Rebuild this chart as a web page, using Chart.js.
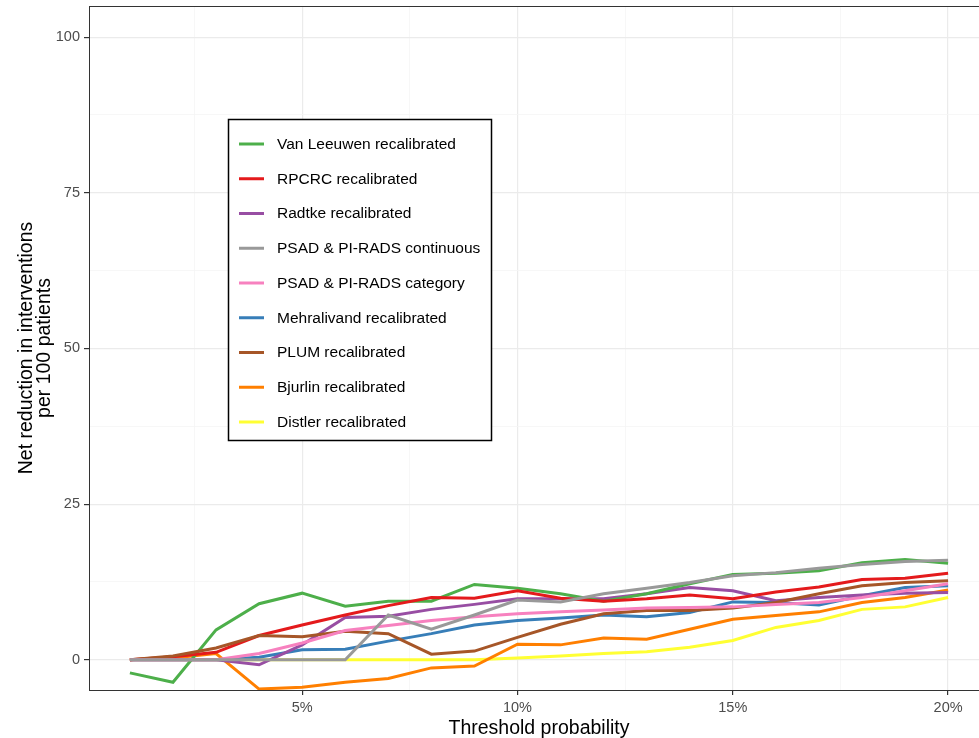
<!DOCTYPE html>
<html>
<head>
<meta charset="utf-8">
<script src="https://cdn.jsdelivr.net/npm/chart.js@4.4.1/dist/chart.umd.min.js"></script>
<style>
  html, body { margin: 0; padding: 0; background: #fff; overflow: hidden; }
  #wrap { width: 979px; height: 738px; overflow: hidden; }
</style>
</head>
<body>
<div id="wrap"><canvas id="dca" width="1000" height="738"></canvas></div>
<script>
const thresholds = [1, 2, 3, 4, 5, 6, 7, 8, 9, 10, 11, 12, 13, 14, 15, 16, 17, 18, 19, 20];

const vanLeeuwen  = [-2.1, -3.6, 4.8, 9.0, 10.7, 8.6, 9.4, 9.4, 12.1, 11.5, 10.6, 9.4, 10.6, 12.2, 13.7, 13.9, 14.3, 15.6, 16.1, 15.5];
const rpcrc       = [0, 0.5, 1.2, 3.9, 5.6, 7.2, 8.7, 10.0, 9.9, 11.1, 9.9, 9.4, 9.8, 10.4, 9.8, 10.9, 11.7, 12.9, 13.1, 13.9];
const radtke      = [0, 0, 0, -0.8, 2.4, 6.8, 7.0, 8.1, 8.9, 9.8, 9.8, 9.8, 10.6, 11.6, 11.1, 9.5, 10.0, 10.4, 10.7, 10.8];
const psadCont    = [0, 0, 0, 0, 0, 0, 7.2, 4.9, 7.2, 9.6, 9.3, 10.6, 11.5, 12.4, 13.5, 14.0, 14.7, 15.3, 15.8, 16.0];
const psadCat     = [0, 0, 0, 1.0, 2.7, 4.7, 5.5, 6.3, 6.9, 7.4, 7.7, 8.0, 8.3, 8.4, 8.5, 8.9, 9.2, 10.0, 11.1, 12.2];
const mehralivand = [0, 0, 0, 0.4, 1.6, 1.7, 3.0, 4.2, 5.6, 6.3, 6.7, 7.2, 6.9, 7.6, 9.3, 9.2, 8.8, 10.3, 11.6, 11.9];
const plum        = [0, 0.6, 1.9, 3.9, 3.7, 4.6, 4.2, 0.9, 1.4, 3.6, 5.7, 7.4, 7.9, 7.9, 8.3, 9.2, 10.6, 11.9, 12.4, 12.7];
const bjurlin     = [0, 0.3, 1.0, -4.7, -4.4, -3.6, -3.0, -1.3, -1.0, 2.5, 2.4, 3.5, 3.3, 4.9, 6.5, 7.1, 7.7, 9.2, 10.0, 11.2];
const distler     = [0, 0, 0, 0, 0, 0, 0, 0, 0, 0.3, 0.6, 1.0, 1.3, 2.0, 3.1, 5.2, 6.3, 8.1, 8.5, 10.0];

const xMajorTicks = [5, 10, 15, 20];
const xMinorTicks = [2.5, 7.5, 12.5, 17.5];
const yMajorTicks = [0, 25, 50, 75, 100];
const yMinorTicks = [12.5, 37.5, 62.5, 87.5];

const FONT = "'Liberation Sans', Arial, Helvetica, sans-serif";

const series = [
  { label: "Van Leeuwen recalibrated", values: vanLeeuwen, color: "#4DAF4A", order: 5 },
  { label: "RPCRC recalibrated", values: rpcrc, color: "#E41A1C", order: 4 },
  { label: "Radtke recalibrated", values: radtke, color: "#984EA3", order: 6 },
  { label: "PSAD & PI-RADS continuous", values: psadCont, color: "#999999", order: 1 },
  { label: "PSAD & PI-RADS category", values: psadCat, color: "#F781BF", order: 2 },
  { label: "Mehralivand recalibrated", values: mehralivand, color: "#377EB8", order: 7 },
  { label: "PLUM recalibrated", values: plum, color: "#A65628", order: 3 },
  { label: "Bjurlin recalibrated", values: bjurlin, color: "#FF7F00", order: 8 },
  { label: "Distler recalibrated", values: distler, color: "#FFFF33", order: 9 },
];

// ggplot-like panel border on all sides
const panelBorder = {
  id: "panelBorder",
  afterDraw(chart) {
    const { ctx, chartArea: a } = chart;
    ctx.save();
    ctx.strokeStyle = "#333333";
    ctx.lineWidth = 1;
    ctx.strokeRect(a.left + 0.5, a.top + 0.5, a.right - a.left, a.bottom - a.top);
    ctx.restore();
  },
};

// boxed legend placed inside the panel
const insetLegend = {
  id: "insetLegend",
  afterDraw(chart) {
    const ctx = chart.ctx;
    const box = { x: 228.5, y: 119.5, w: 263, h: 321 };
    ctx.save();
    ctx.fillStyle = "#ffffff";
    ctx.fillRect(box.x, box.y, box.w, box.h);
    ctx.strokeStyle = "#000000";
    ctx.lineWidth = 1.5;
    ctx.strokeRect(box.x, box.y, box.w, box.h);
    ctx.font = "15.5px " + FONT;
    ctx.textBaseline = "middle";
    ctx.fillStyle = "#000000";
    chart.data.datasets.forEach((ds, i) => {
      const y = 144 + i * 34.75;
      ctx.strokeStyle = ds.borderColor;
      ctx.lineWidth = 3;
      ctx.beginPath();
      ctx.moveTo(239, y);
      ctx.lineTo(264, y);
      ctx.stroke();
      ctx.fillText(ds.label, 277, y + 0.5);
    });
    ctx.restore();
  },
};

const isIn = (arr, v) => arr.some((t) => Math.abs(t - v) < 1e-6);

new Chart(document.getElementById("dca"), {
  type: "line",
  data: {
    datasets: series.map((s) => ({
      label: s.label,
      data: thresholds.map((t, i) => ({ x: t, y: s.values[i] })),
      borderColor: s.color,
      backgroundColor: s.color,
      borderWidth: 3,
      pointRadius: 0,
      tension: 0,
      fill: false,
      order: s.order,
    })),
  },
  options: {
    responsive: false,
    animation: false,
    layout: { padding: { top: 6, right: 11, left: 0, bottom: 0 } },
    plugins: { legend: { display: false }, tooltip: { enabled: false } },
    scales: {
      x: {
        type: "linear",
        min: 0.05,
        max: 20.95,
        afterBuildTicks: (scale) => {
          scale.ticks = [...xMinorTicks, ...xMajorTicks].sort((a, b) => a - b).map((v) => ({ value: v }));
        },
        afterFit: (scale) => {
          scale.height = 48;
          scale.paddingLeft = 0;
          scale.paddingRight = 0;
        },
        border: { display: false },
        grid: {
          color: (c) => (isIn(xMajorTicks, c.tick.value) ? "#EBEBEB" : "#F5F5F5"),
          lineWidth: (c) => (isIn(xMajorTicks, c.tick.value) ? 1.2 : 0.8),
          tickLength: 5,
          tickColor: (c) => (isIn(xMajorTicks, c.tick.value) ? "#333333" : "rgba(0,0,0,0)"),
        },
        ticks: {
          autoSkip: false,
          maxRotation: 0,
          padding: 4,
          color: "#4D4D4D",
          font: { family: FONT, size: 14.5 },
          callback: (v) => (isIn(xMajorTicks, v) ? v + "%" : ""),
        },
        title: {
          display: true,
          text: "Threshold probability",
          color: "#000000",
          font: { family: FONT, size: 19.5 },
          padding: { top: 0, bottom: -2 },
        },
      },
      y: {
        type: "linear",
        min: -4.85,
        max: 105,
        afterBuildTicks: (scale) => {
          scale.ticks = [...yMajorTicks, ...yMinorTicks].sort((a, b) => a - b).map((v) => ({ value: v }));
        },
        afterFit: (scale) => {
          scale.width = 89;
          scale.paddingTop = 0;
          scale.paddingBottom = 0;
        },
        border: { display: false },
        grid: {
          color: (c) => (isIn(yMajorTicks, c.tick.value) ? "#EBEBEB" : "#F5F5F5"),
          lineWidth: (c) => (isIn(yMajorTicks, c.tick.value) ? 1.2 : 0.8),
          tickLength: 5,
          tickColor: (c) => (isIn(yMajorTicks, c.tick.value) ? "#333333" : "rgba(0,0,0,0)"),
        },
        ticks: {
          autoSkip: false,
          padding: 4,
          color: "#4D4D4D",
          font: { family: FONT, size: 14.5 },
          callback: (v) => (isIn(yMajorTicks, v) ? String(v) : ""),
        },
        title: {
          display: true,
          text: ["Net reduction in interventions", "per 100 patients"],
          color: "#000000",
          font: { family: FONT, size: 19.5, lineHeight: 0.95 },
          padding: { top: 17, bottom: 0 },
        },
      },
    },
  },
  plugins: [panelBorder, insetLegend],
});
</script>
</body>
</html>
